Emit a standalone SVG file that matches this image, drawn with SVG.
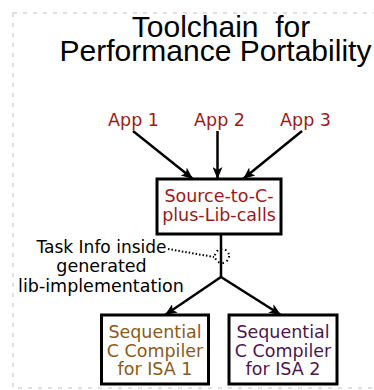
<svg xmlns="http://www.w3.org/2000/svg" width="374" height="390" viewBox="0 0 374 390">
<defs>
<marker id="ah" viewBox="0 0 12 10" refX="12" refY="5" markerWidth="12" markerHeight="10" markerUnits="userSpaceOnUse" orient="auto">
<path d="M0,0 L12,5 L0,10 L3,5 Z" fill="#000"/>
</marker>
<style>
.t{font-family:"DejaVu Sans",Verdana,sans-serif;font-size:17.5px;text-anchor:middle}
.title{font-family:"Liberation Sans",Arial,sans-serif;font-size:30px;text-anchor:middle;fill:#000}
.red{fill:#9a1a1a}
.brown{fill:#8a5a18}
.purple{fill:#4a1650}
.box{fill:#fff;stroke:#000;stroke-width:3}
.edge{stroke:#000;stroke-width:2.5;fill:none}
</style>
</defs>
<rect x="13" y="13" width="372" height="375" fill="none" stroke="#d6d6d6" stroke-width="1.5" stroke-dasharray="4 6"/>
<g id="title">
<text class="title" x="221" y="37" style="white-space:pre">Toolchain  for</text>
<text class="title" x="215.5" y="61">Performance Portability</text>
</g>
<g id="connectors">
<line class="edge" x1="133" y1="131" x2="193" y2="179" marker-end="url(#ah)"/>
<line class="edge" x1="217.5" y1="131" x2="217.5" y2="179" marker-end="url(#ah)"/>
<line class="edge" x1="302" y1="131" x2="243" y2="179" marker-end="url(#ah)"/>
<polyline class="edge" points="221,234 221,277"/>
<line class="edge" x1="221" y1="277" x2="165" y2="315" marker-end="url(#ah)"/>
<line class="edge" x1="221" y1="277" x2="281" y2="315" marker-end="url(#ah)"/>
<line x1="168" y1="249" x2="214" y2="257" stroke="#000" stroke-width="2" stroke-dasharray="1.5 2"/>
<circle cx="222" cy="256" r="7" fill="none" stroke="#000" stroke-width="2" stroke-dasharray="1.5 3"/>
</g>
<g id="app1"><text class="t red" x="133.5" y="125.5">App 1</text></g>
<g id="app2"><text class="t red" x="219.5" y="125.5">App 2</text></g>
<g id="app3"><text class="t red" x="305.5" y="125.5">App 3</text></g>
<g id="source">
<rect class="box" x="157" y="179" width="124" height="55"/>
<text class="t red" x="219" y="202">Source-to-C-</text>
<text class="t red" x="219" y="221">plus-Lib-calls</text>
</g>
<g id="taskinfo">
<text class="t" x="101.5" y="253" textLength="130" lengthAdjust="spacingAndGlyphs">Task Info inside</text>
<text class="t" x="101.5" y="272">generated</text>
<text class="t" x="101" y="291.5">lib-implementation</text>
</g>
<g id="isa1">
<rect class="box" x="101.5" y="315" width="107" height="69"/>
<text class="t brown" x="155" y="338">Sequential</text>
<text class="t brown" x="155" y="356.5">C Compiler</text>
<text class="t brown" x="155" y="375">for ISA 1</text>
</g>
<g id="isa2">
<rect class="box" x="229" y="315" width="108" height="69"/>
<text class="t purple" x="283" y="338">Sequential</text>
<text class="t purple" x="283" y="356.5">C Compiler</text>
<text class="t purple" x="283" y="375">for ISA 2</text>
</g>
</svg>
